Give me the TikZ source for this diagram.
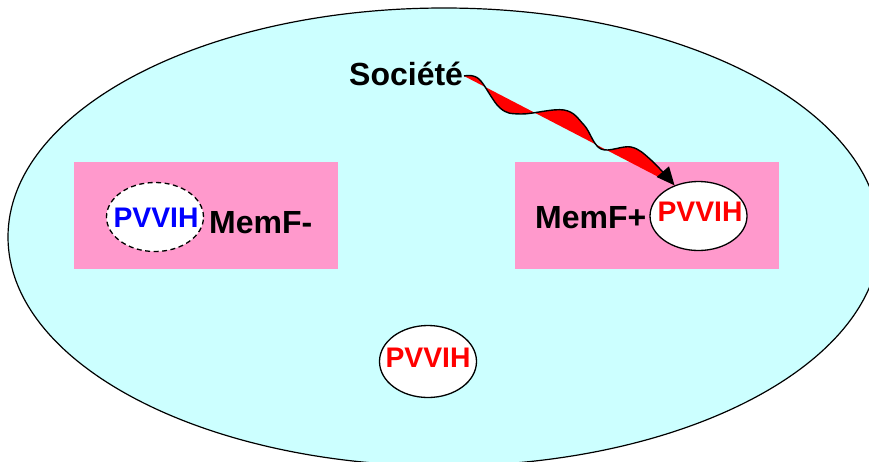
\documentclass[tikz,border=0pt]{standalone}
\usepackage{fontspec}
\setmainfont{Liberation Sans}
\usepackage{tikz}
\usetikzlibrary{positioning,shapes.geometric,arrows.meta}
\definecolor{societe}{HTML}{CCFFFF}
\definecolor{memf}{HTML}{FF99CC}
\definecolor{pvred}{HTML}{FF0000}
\definecolor{pvblue}{HTML}{0000FF}
\tikzset{
  pinkbox/.style={fill=memf,minimum width=264pt,minimum height=107pt,inner sep=0pt},
  pvbulle/.style={ellipse,fill=white,draw=black,line width=1.3pt,minimum width=97pt,minimum height=69pt,inner sep=0pt},
  bigtxt/.style={font=\fontsize{32}{34}\selectfont\bfseries},
  pvtxt/.style={font=\fontsize{28.3}{30}\selectfont\bfseries,inner sep=0pt},
}

\begin{document}
\begin{tikzpicture}[x=1pt,y=-1pt]
      \useasboundingbox (0,0) rectangle (869,461);
      \clip (0,0) rectangle (869,461);
      \draw[fill=societe,line width=1.2pt] (444,237) ellipse [x radius=436,y radius=229];
      % les deux groupes MemF
      \node[pinkbox] (boxmoins) at (206,215.5) {};
      \node[pinkbox] (boxplus) at (646.5,215.5) {};
      \node[pvbulle,dash pattern=on 5pt off 3.5pt] (pvmoins) at (155,217) {};
      \node[pvbulle] (pvplus) at (698.5,216) {};
      \node[pvbulle,minimum height=72pt] (pvsoc) at (428,361.5) {};
      \node[pvtxt,text=pvblue] (tmoins) at (156,218) {PVVIH};
      \node[pvtxt,text=pvred] (tplus) at (700,212) {PVVIH};
      \node[pvtxt,text=pvred] (tsoc) at (428,358) {PVVIH};
      \node[bigtxt,anchor=base west,inner sep=0pt] (memfm) at (209,233) {MemF-};
      \node[bigtxt,anchor=base west,inner sep=0pt] (memfp) at (535,228) {MemF+};
      \node[bigtxt,anchor=base west,inner sep=0pt] (soc) at (349,85) {Société};
      % fleche ondulee
      \coordinate (wdeb) at (464,76);
      \coordinate (wfin) at (pvplus.128);
      \fill[pvred] plot[smooth,tension=.6] coordinates{(wdeb) (479,79) (500,108) (521,114) (564,110) (584,125) (601,149) (631,147) (651,160)} -- (wfin) -- cycle;
      \draw[line width=1.4pt,-{Triangle[length=18pt,width=16pt]}] plot[smooth,tension=.6] coordinates{(wdeb) (479,79) (500,108) (521,114) (564,110) (584,125) (601,149) (631,147) (651,160) (wfin)};
    \end{tikzpicture}
\end{document}
